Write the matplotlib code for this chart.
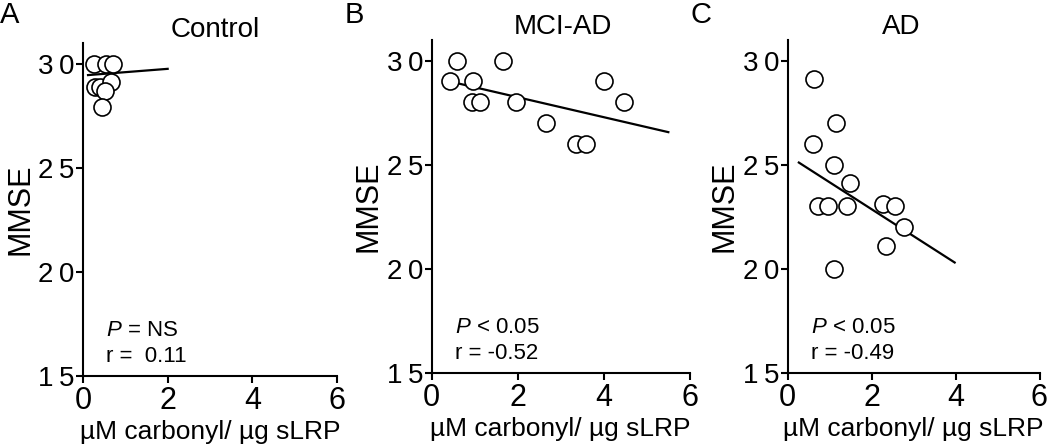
import matplotlib
matplotlib.use('Agg')
import matplotlib.pyplot as plt

plt.rcParams['font.family'] = ['Liberation Sans', 'DejaVu Sans']
plt.rcParams['mathtext.fontset'] = 'custom'
plt.rcParams['mathtext.it'] = 'Liberation Sans:italic'
plt.rcParams['mathtext.rm'] = 'Liberation Sans'

# Control
ctrl_x = [0.27, 0.54, 0.72, 0.28, 0.40, 0.66, 0.52, 0.44]
ctrl_y = [30.0, 30.0, 30.0, 28.9, 28.9, 29.1, 28.7, 27.9]
ctrl_fit_x = [0.12, 2.0]
ctrl_fit_y = [29.45, 29.75]

# MCI-AD
mci_x = [0.43, 0.60, 0.97, 0.93, 1.12, 1.65, 1.96, 2.67, 3.35, 3.58, 4.00, 4.47]
mci_y = [29.0, 30.0, 29.0, 28.0, 28.0, 30.0, 28.0, 27.0, 26.0, 26.0, 29.0, 28.0]
mci_fit_x = [0.43, 5.5]
mci_fit_y = [28.99, 26.56]

# AD
ad_x = [0.63, 1.15, 0.61, 1.10, 1.48, 0.73, 0.97, 1.42, 2.27, 2.55, 2.77, 2.34, 1.10]
ad_y = [29.1, 27.0, 26.0, 25.0, 24.1, 23.0, 23.0, 23.0, 23.1, 23.0, 22.0, 21.1, 20.0]
ad_fit_x = [0.27, 3.98]
ad_fit_y = [25.1, 20.3]

x_ticks = [0, 2, 4, 6]
y_ticks = [15, 20, 25, 30]
y_tick_labels = ['1\u20095', '2\u20090', '2\u20095', '3\u20090']

panels = [
    ('A', 'Control', ctrl_x, ctrl_y, ctrl_fit_x, ctrl_fit_y, ['$P$ = NS', 'r =  0.11']),
    ('B', 'MCI-AD', mci_x, mci_y, mci_fit_x, mci_fit_y, ['$P$ < 0.05', 'r = -0.52']),
    ('C', 'AD', ad_x, ad_y, ad_fit_x, ad_fit_y, ['$P$ < 0.05', 'r = -0.49']),
]
positions = [
    [0.079, 0.157, 0.242, 0.747],
    [0.411, 0.164, 0.246, 0.747],
    [0.750, 0.164, 0.240, 0.747],
]
letter_x = [0.0, 0.328, 0.658]
title_x = [0.52, 0.51, 0.45]

fig = plt.figure(figsize=(10.5, 4.46), dpi=100)

for (letter, title, xs, ys, fx, fy, stats), pos, lx, tx in zip(panels, positions, letter_x, title_x):
    ax = fig.add_axes(pos)
    ax.plot(fx, fy, color='black', linewidth=1.6, zorder=2)
    ax.scatter(xs, ys, s=150, facecolors='white', edgecolors='black', linewidths=1.2, zorder=3, clip_on=False)
    ax.set_xlim(0, 6)
    ax.set_ylim(15, 31)
    ax.set_xticks(x_ticks)
    ax.set_yticks(y_ticks)
    ax.set_yticklabels(y_tick_labels)
    for side in ['top', 'right']:
        ax.spines[side].set_visible(False)
    for side in ['left', 'bottom']:
        ax.spines[side].set_linewidth(1.5)
    ax.tick_params(axis='both', direction='out', length=5, width=1.5)
    ax.tick_params(axis='y', pad=1, labelsize=20)
    ax.tick_params(axis='x', pad=2, labelsize=22)
    ax.set_ylabel('MMSE', fontsize=22, labelpad=2)
    ax.set_xlabel('\u00b5M carbonyl/ \u00b5g sLRP', fontsize=19, labelpad=3)
    ax.text(tx, 1.0, title, transform=ax.transAxes, fontsize=20, ha='center', va='bottom')
    ax.text(0.55, 17.2, stats[0], fontsize=16, va='center')
    ax.text(0.55, 15.95, stats[1], fontsize=16, va='center')
    fig.text(lx, 0.966, letter, fontsize=21, va='center')

plt.savefig('out.png', dpi=100)
plt.close()
